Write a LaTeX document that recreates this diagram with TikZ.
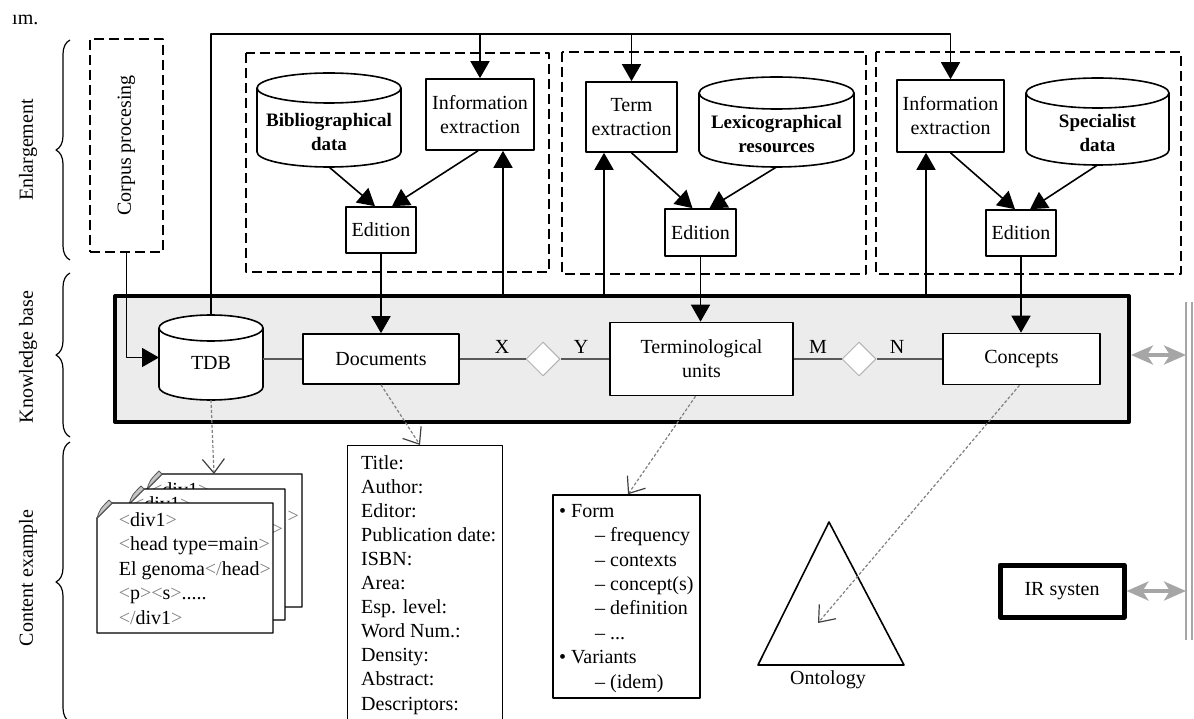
\documentclass[tikz,border=0pt]{standalone}
\usepackage{fontspec}
\setmainfont{Liberation Serif}
\usetikzlibrary{arrows.meta,calc,decorations.pathreplacing,shapes.geometric}

\newcommand{\tg}[1]{\textcolor{gray}{#1}}
% cylinder outline: centre x, centre y, half width, half height, end radius
\newcommand{\dbshape}[5]{%
  \filldraw[line width=1.6pt,fill=white] (#1-#3,#2-#4+#5) arc[start angle=180,end angle=0,x radius=#3pt,y radius=#5pt]
    -- (#1+#3,#2+#4-#5) arc[start angle=0,end angle=-180,x radius=#3pt,y radius=#5pt] -- cycle;
  \draw[line width=1.6pt] (#1-#3,#2-#4+#5) arc[start angle=180,end angle=360,x radius=#3pt,y radius=#5pt];}
% sheet with folded corner: left, top, right, bottom
\newcommand{\sheet}[4]{%
  \draw[line width=1.4pt,fill=white] (#1,#2+15) -- (#1+15,#2) -- (#3,#2) -- (#3,#4) -- (#1,#4) -- cycle;
  \filldraw[fill=gray!45,draw=gray!70!black,line width=0.8pt] (#1,#2+15) .. controls (#1+3,#2+6) .. (#1+12,#2-3) -- (#1+15,#2) -- cycle;}

\begin{document}
\begin{tikzpicture}[x=1pt,y=-1pt,line join=round,
  font=\fontsize{20}{24}\selectfont,
  box/.style={draw,line width=1.6pt,fill=white,align=center,inner sep=2pt},
  db/.style={inner sep=0pt,outer sep=0pt},
  dbtext/.style={align=center,font=\fontsize{19}{24}\selectfont\bfseries,yshift=-12pt},
  sect/.style={draw,dash pattern=on 10pt off 5pt,line width=1.5pt},
  tri/.style={-{Triangle[length=17pt,width=19pt]},line width=1.6pt},
  link/.style={gray!70!black,line width=1.3pt},
  rel/.style={diamond,draw=gray!60,fill=white,line width=1pt,minimum width=34pt,minimum height=34pt,inner sep=0pt},
  ref/.style={dash pattern=on 3pt off 2pt,gray,line width=1.2pt,-{Straight Barb[length=14pt,width=22pt,color=black!75]}},
  io/.style={gray!70,line width=3.5pt,{Stealth[length=22pt,width=19pt,inset=6pt]}-{Stealth[length=22pt,width=19pt,inset=6pt]}},
  pgtext/.style={align=left,inner sep=0,font=\fontsize{20}{24.5}\selectfont},
  brc/.style={decorate,decoration={brace,amplitude=14pt},line width=1.2pt}]

\useasboundingbox (0,0) rectangle (1194,719);

% side labels
\node[anchor=west,inner sep=0] (cut) at (12,20) {ım.};
\draw[brc] (70,260) -- (70,40);
\draw[brc] (70,437) -- (70,273);
\draw[brc] (70,722) -- (70,442);
\node[rotate=90] (lenl) at (28,150) {Enlargement};
\node[rotate=90] (lkb) at (28,357) {Knowledge base};
\node[rotate=90] (lce) at (28,578) {Content example};

% enlargement
\node[sect,minimum width=73pt,minimum height=213pt,inner sep=0] (corpus) at (126.5,145.5) {\rotatebox{90}{Corpus procesing}};
\draw[sect] (246,53) rectangle (549,272);
\draw[sect] (562,52) rectangle (866,274);
\draw[sect] (876,52) rectangle (1181,274);

\dbshape{329}{120}{72}{47}{15}
\node[db,minimum width=144pt,minimum height=94pt,label={[dbtext]center:{Bibliographical\\data}}] (bib) at (329,120) {};
\node[box,minimum width=108pt,minimum height=71pt] (info1) at (480,114.5) {Information\\extraction};
\node[box,minimum width=70pt,minimum height=46pt] (ed1) at (381,230) {Edition};

\node[box,minimum width=91pt,minimum height=70pt] (term) at (631.5,117) {Term\\extraction};
\dbshape{776.5}{122}{77.5}{45}{16}
\node[db,minimum width=155pt,minimum height=90pt,label={[dbtext]center:{Lexicographical\\resources}}] (lexi) at (776.5,122) {};
\node[box,minimum width=71pt,minimum height=47pt] (ed2) at (700.5,232.5) {Edition};

\node[box,minimum width=107pt,minimum height=72pt] (info3) at (950.5,116) {Information\\extraction};
\dbshape{1097.5}{121.5}{71.5}{43.5}{15}
\node[db,minimum width=143pt,minimum height=87pt,label={[dbtext]center:{Specialist\\data}}] (spec) at (1097.5,121.5) {};
\node[box,minimum width=70pt,minimum height=46pt] (ed3) at (1021,233) {Edition};

% knowledge base
\node[draw,line width=4pt,fill=gray!15,minimum width=1014pt,minimum height=126pt,inner sep=0] (kb) at (622,359) {};
\dbshape{211}{357.5}{52}{42.5}{13}
\node[db,minimum width=104pt,minimum height=85pt,label={[yshift=-5pt]center:TDB}] (tdb) at (211,357.5) {};
\node[box,minimum width=156pt,minimum height=50pt] (docs) at (381,359) {Documents};
\node[rel] (xy) at (543,359) {};
\node[box,minimum width=183pt,minimum height=73pt] (tu) at (701.5,359) {Terminological\\units};
\node[rel] (mn) at (859,359) {};
\node[box,minimum width=157pt,minimum height=51pt] (conc) at (1021.5,359) {Concepts};

\draw[link] (tdb.east |- docs.west) -- (docs.west);
\draw[link] (docs) -- (xy) -- (tu) -- (mn) -- (conc);
\node (lx) at (502,347) {X};
\node (ly) at (581,347) {Y};
\node (lm) at (818,347) {M};
\node (ln) at (897,347) {N};

% flows
\draw[tri] (bib.south) -- ($(ed1.north)+(-6,0)$);
\draw[tri] ($(info1.south)+(-2,0)$) -- ($(ed1.north)+(11,0)$);
\draw[tri] (term.south) -- ($(ed2.north)+(-8,0)$);
\draw[tri] (lexi.south) -- ($(ed2.north)+(9,0)$);
\draw[tri] (info3.south) -- ($(ed3.north)+(-6,0)$);
\draw[tri] (spec.south) -- ($(ed3.north)+(9,0)$);

\draw[tri] (ed1.south) -- (docs.north);
\draw[tri] (ed2.south) -- (ed2.south |- tu.north);
\draw[tri] (ed3.south) -- (ed3.south |- conc.north);

\draw[tri] (kb.north -| 503,0) -- (info1.south -| 503,0);
\draw[tri] (kb.north -| 604,0) -- (term.south -| 604,0);
\draw[tri] (kb.north -| 926,0) -- (info3.south -| 926,0);

\draw[tri] (tdb.north) |- (info3.north |- 0,34) -- (info3.north);
\draw[tri] (info1.north |- 0,34) -- (info1.north);
\draw[tri] (term.north |- 0,34) -- (term.north);

\draw[tri] (corpus.south) |- (tdb.west);

% retrieval
\node[draw,line width=5pt,minimum width=124pt,minimum height=52pt] (ir) at (1062,591) {IR systen};
\draw[gray!70,line width=2pt] (1186,302) -- (1186,640);
\draw[gray!70,line width=2pt] (1192,302) -- (1192,640);
\coordinate (kbport) at (1186,355);
\coordinate (irport) at (1186,591);
\draw[io] (kb.east |- kbport) -- (kbport);
\draw[io] (ir.east) -- (irport);

% content examples
\sheet{147}{474}{302}{607}
\node[pgtext,anchor=west] (pga1) at (151,490) {\tg{<}div1\tg{>}};
\node[pgtext,anchor=east] (pga2) at (299,517) {\tg{>}};
\sheet{129}{489}{285}{620}
\node[pgtext,anchor=west] (pgb1) at (133,504) {\tg{<}div1\tg{>}};
\node[pgtext,anchor=east] (pgb2) at (283,530) {\tg{>}};
\sheet{97}{503}{273}{633}
\node[pgtext,anchor=north east] (pgc) at (271,512)
  {\tg{<}div1\tg{>}\\\tg{<}head type=main\tg{>}\\El genoma\tg{</}head\tg{>}\\\tg{<}p\tg{><}s\tg{>}.....\\\tg{</}div1\tg{>}};
\coordinate (pgtop) at (214,474);
\draw[ref] (tdb.south) -- (pgtop);

\node[draw,line width=1.4pt,anchor=north west,minimum width=155pt,minimum height=290pt] (doclist) at (347,445) {};
\node[anchor=north west,align=left,inner sep=0,font=\fontsize{20}{24.1}\selectfont] (doctext) at (361,455)
  {Title:\\Author:\\Editor:\\Publication date:\\ISBN:\\Area:\\Esp. level:\\Word Num.:\\Density:\\Abstract:\\Descriptors:};
\draw[ref] (docs.south) -- ($(doclist.north west)+(73,0)$);

\node[draw,line width=1.4pt,minimum width=147pt,minimum height=203pt] (tulist) at (626.5,596.5) {};
\node[anchor=north west,align=left,inner sep=0,font=\fontsize{20}{24.4}\selectfont] (tutext) at (559,504)
  {• Form\\\hspace*{36pt}– frequency\\\hspace*{36pt}– contexts\\\hspace*{36pt}– concept(s)\\\hspace*{36pt}– definition\\\hspace*{36pt}– ...\\• Variants\\\hspace*{36pt}– (idem)};
\draw[ref] ($(tu.south)+(-6,0)$) -- ($(tulist.north)+(1.5,0)$);

\draw[line width=1.6pt] (829,522) -- (904,665) -- (758,665) -- cycle;
\node (onto) at (828,680) {Ontology};
\coordinate (ontotip) at (818,623);
\draw[ref] ($(conc.south)+(-2,0)$) -- (ontotip);

\end{tikzpicture}
\end{document}
